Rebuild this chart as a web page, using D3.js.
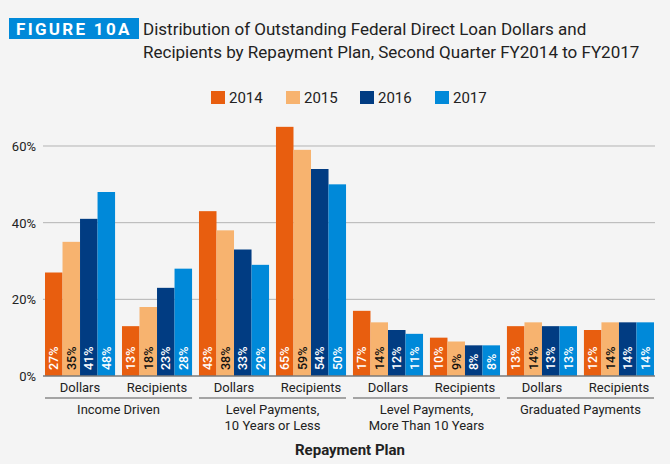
<!DOCTYPE html>
<html>
<head>
<meta charset="utf-8">
<script src="https://cdn.jsdelivr.net/npm/d3@7"></script>
<style>
  body { margin: 0; background: #f4f4f4; }
  svg { display: block; font-family: Roboto, "Liberation Sans", sans-serif; }
</style>
</head>
<body>
<svg id="chart" width="670" height="464"></svg>
<script>
// data
const years = ["2014", "2015", "2016", "2017"];
const plans = ["Income Driven", "Level Payments,\n10 Years or Less", "Level Payments,\nMore Than 10 Years", "Graduated Payments"];
const measures = ["Dollars", "Recipients"];
const values2014 = [27, 13, 43, 65, 17, 10, 13, 12];
const values2015 = [35, 18, 38, 59, 14, 9, 14, 14];
const values2016 = [41, 23, 33, 54, 12, 8, 13, 14];
const values2017 = [48, 28, 29, 50, 11, 8, 13, 14];
const yTicks = [0, 20, 40, 60];

const colors = ["#e85e0f", "#f7b36f", "#013c82", "#0089d9"];
const labelColors = ["#fff", "#111", "#fff", "#fff"];
const series = [values2014, values2015, values2016, values2017];

const svg = d3.select("#chart");

// header
svg.append("rect").attr("x", 9).attr("y", 18).attr("width", 130).attr("height", 21).attr("fill", "#0089d9");
svg.append("text").attr("x", 16).attr("y", 34.5).attr("fill", "#fff")
  .attr("font-size", 17).attr("font-weight", 700).attr("letter-spacing", 2.3)
  .text("FIGURE 10A");
const title = svg.append("text").attr("fill", "#222").attr("font-size", 17);
title.append("tspan").attr("x", 143).attr("y", 34.5).text("Distribution of Outstanding Federal Direct Loan Dollars and");
title.append("tspan").attr("x", 143).attr("y", 58).text("Recipients by Repayment Plan, Second Quarter FY2014 to FY2017");

// legend
const legendX = [211, 286, 360, 435];
const legend = svg.append("g");
years.forEach((yr, i) => {
  legend.append("rect").attr("x", legendX[i]).attr("y", 91).attr("width", 14).attr("height", 13).attr("fill", colors[i]);
  legend.append("text").attr("x", legendX[i] + 18).attr("y", 103).attr("font-size", 15).attr("fill", "#222").text(yr);
});

// scales
const groups = plans.flatMap((p, pi) => measures.map(m => pi + "|" + m));
const x0 = d3.scaleBand().domain(groups).range([45, 654]).paddingInner(0.09).paddingOuter(0);
const x1 = d3.scaleBand().domain(years).range([0, x0.bandwidth()]).padding(0);
const y = d3.scaleLinear().domain([0, 60]).range([376, 146]);

// grid + y labels
const grid = svg.append("g");
grid.selectAll("line").data(yTicks.slice(1)).join("line")
  .attr("x1", 43).attr("x2", 655).attr("y1", d => y(d)).attr("y2", d => y(d))
  .attr("stroke", "#b3b3b3").attr("stroke-width", 1);
svg.append("g").selectAll("text").data(yTicks).join("text")
  .attr("x", 36).attr("y", d => y(d) + 5).attr("text-anchor", "end")
  .attr("font-size", 13).attr("fill", "#222").text(d => d + "%");

// bars
const gBars = svg.append("g");
groups.forEach((g, gi) => {
  years.forEach((yr, yi) => {
    const v = series[yi][gi];
    const bx = x0(g) + x1(yr);
    gBars.append("rect").attr("x", bx).attr("y", y(v))
      .attr("width", x1.bandwidth()).attr("height", y(0) - y(v)).attr("fill", colors[yi]);
    gBars.append("text")
      .attr("transform", `translate(${bx + x1.bandwidth() / 2 + 4.5},${y(0) - 6}) rotate(-90)`)
      .attr("font-size", 12.5).attr("font-weight", 500).attr("fill", labelColors[yi])
      .text(v + "%");
  });
});

// baseline
svg.append("line").attr("x1", 43).attr("x2", 655).attr("y1", y(0)).attr("y2", y(0))
  .attr("stroke", "#7a7a7a").attr("stroke-width", 1.5);

// measure labels
svg.append("g").selectAll("text").data(groups).join("text")
  .attr("x", d => x0(d) + x0.bandwidth() / 2).attr("y", 392).attr("text-anchor", "middle")
  .attr("font-size", 13).attr("fill", "#222").text(d => d.split("|")[1]);

// plan brackets + labels
plans.forEach((p, pi) => {
  const xa = x0(pi + "|Dollars"), xb = x0(pi + "|Recipients") + x0.bandwidth();
  svg.append("line").attr("x1", xa).attr("x2", xb).attr("y1", 398).attr("y2", 398)
    .attr("stroke", "#8a8a8a").attr("stroke-width", 1.5);
  const t = svg.append("text").attr("text-anchor", "middle").attr("font-size", 13).attr("fill", "#222");
  p.split("\n").forEach((line, li) => {
    t.append("tspan").attr("x", (xa + xb) / 2).attr("y", 414 + li * 16).text(line);
  });
});

svg.append("text").attr("x", 350).attr("y", 455).attr("text-anchor", "middle")
  .attr("font-size", 15).attr("font-weight", 700).attr("fill", "#222").text("Repayment Plan");
</script>
</body>
</html>
